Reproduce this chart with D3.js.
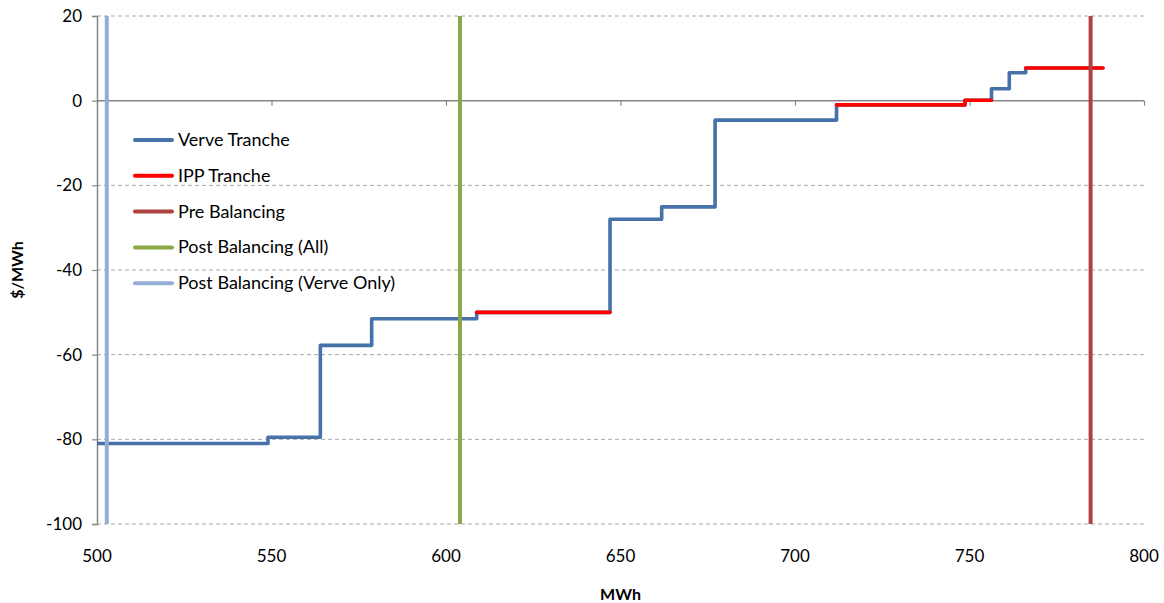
<!DOCTYPE html>
<html>
<head>
<meta charset="utf-8">
<script src="https://cdn.jsdelivr.net/npm/d3@7"></script>
<style>
  html, body { margin: 0; padding: 0; background: #fff; }
  svg { display: block; font-family: Lato, "Open Sans", sans-serif; }
</style>
</head>
<body>
<div id="chart"></div>
<script>
// Supply stack: each tranche runs from start MWh to end MWh at a price.
const trancheStart = [500, 549, 564, 578.7, 608.8, 647, 661.8, 677.1, 711.9, 748.7, 756.3, 761.4, 766.1];
const trancheEnd   = [549, 564, 578.7, 608.8, 647, 661.8, 677.1, 711.9, 748.7, 756.3, 761.4, 766.1, 788.3];
const tranchePrice = [-81, -79.5, -57.8, -51.5, -50.0, -28.0, -25.1, -4.6, -1.0, 0.1, 2.8, 6.6, 7.7];
const trancheOwner = ["Verve", "Verve", "Verve", "Verve", "IPP", "Verve", "Verve", "Verve", "IPP", "IPP", "Verve", "Verve", "IPP"];

// Balancing positions (MWh)
const balancingNames = ["Pre Balancing", "Post Balancing (All)", "Post Balancing (Verve Only)"];
const balancingMWh   = [784.7, 604, 502.8];

const xTicks = [500, 550, 600, 650, 700, 750, 800];
const yTicks = [20, 0, -20, -40, -60, -80, -100];

const legendNames  = ["Verve Tranche", "IPP Tranche", "Pre Balancing", "Post Balancing (All)", "Post Balancing (Verve Only)"];
const legendColors = ["#4671A9", "#FF0000", "#AD4341", "#8BA747", "#93ADD5"];

const W = 1164, H = 603;
const plot = { left: 97, right: 1144, top: 16, bottom: 524 };

const svg = d3.select("#chart").append("svg").attr("width", W).attr("height", H);

const x = d3.scaleLinear().domain([500, 800]).range([plot.left, plot.right]);
const y = d3.scaleLinear().domain([-100, 20]).range([plot.bottom, plot.top]);

// dashed horizontal gridlines
svg.append("g").selectAll("line")
  .data(yTicks.filter(d => d !== 0))
  .join("line")
  .attr("x1", plot.left).attr("x2", plot.right)
  .attr("y1", d => y(d)).attr("y2", d => y(d))
  .attr("stroke", "#a6a6a6").attr("stroke-width", 1)
  .attr("stroke-dasharray", "4,3");

// y axis (plain hyphen for negatives)
const yAxis = d3.axisLeft(y).tickValues(yTicks).tickSize(5).tickPadding(10).tickFormat(d => String(d));
const gy = svg.append("g").attr("transform", `translate(${plot.left},0)`).call(yAxis);
gy.select(".domain").attr("stroke", "#868686").attr("stroke-width", 1.5);
gy.selectAll(".tick line").attr("stroke", "#868686").attr("stroke-width", 1.2);
gy.selectAll(".tick text").attr("font-size", 17).attr("fill", "#000").attr("font-family", "Lato, sans-serif");

// x axis line drawn through zero, labels along the bottom
const xAxis = d3.axisBottom(x).tickValues(xTicks).tickSize(5).tickFormat(() => "");
const gx = svg.append("g").attr("transform", `translate(0,${y(0)})`).call(xAxis);
gx.select(".domain").attr("stroke", "#868686").attr("stroke-width", 1.5).attr("d", `M${plot.left},0H${plot.right}`);
gx.selectAll(".tick line").attr("stroke", "#868686").attr("stroke-width", 1.2);

svg.append("g").selectAll("text")
  .data(xTicks)
  .join("text")
  .attr("x", d => x(d)).attr("y", 562)
  .attr("text-anchor", "middle")
  .attr("font-size", 17)
  .text(d => d);

// axis titles
svg.append("text")
  .attr("transform", `translate(23,${(plot.top + plot.bottom) / 2}) rotate(-90)`)
  .attr("text-anchor", "middle").attr("font-weight", "bold").attr("font-size", 16)
  .text("$/MWh");
svg.append("text")
  .attr("x", (plot.left + plot.right) / 2).attr("y", 600)
  .attr("text-anchor", "middle").attr("font-weight", "bold").attr("font-size", 16)
  .text("MWh");

// step curve of the whole stack
const stepPts = trancheStart.map((s, i) => [s, tranchePrice[i]]);
stepPts.push([trancheEnd[trancheEnd.length - 1], tranchePrice[tranchePrice.length - 1]]);
const stepLine = d3.line().x(d => x(d[0])).y(d => y(d[1])).curve(d3.curveStepAfter);

svg.append("path")
  .attr("d", stepLine(stepPts))
  .attr("fill", "none").attr("stroke", legendColors[0]).attr("stroke-width", 3.6)
  .attr("stroke-linejoin", "round").attr("stroke-linecap", "butt");

// IPP tranches over the top, grouping consecutive runs
const runs = [];
trancheOwner.forEach((o, i) => {
  if (o !== "IPP") return;
  const last = runs[runs.length - 1];
  if (last && last.endIdx === i - 1) { last.endIdx = i; last.pts.push([trancheStart[i], tranchePrice[i]]); }
  else runs.push({ endIdx: i, pts: [[trancheStart[i], tranchePrice[i]]] });
});
runs.forEach(r => r.pts.push([trancheEnd[r.endIdx], tranchePrice[r.endIdx]]));

svg.append("g").selectAll("path")
  .data(runs)
  .join("path")
  .attr("d", r => stepLine(r.pts))
  .attr("fill", "none").attr("stroke", legendColors[1]).attr("stroke-width", 3.6)
  .attr("stroke-linejoin", "round").attr("stroke-linecap", "round");

// balancing verticals
const balColor = { "Pre Balancing": legendColors[2], "Post Balancing (All)": legendColors[3], "Post Balancing (Verve Only)": legendColors[4] };
svg.append("g").selectAll("line")
  .data(balancingNames.map((n, i) => ({ n, v: balancingMWh[i] })))
  .join("line")
  .attr("x1", d => x(d.v)).attr("x2", d => x(d.v))
  .attr("y1", y(20)).attr("y2", y(-100))
  .attr("stroke", d => balColor[d.n]).attr("stroke-width", 4);

// legend
const lg = svg.append("g").selectAll("g")
  .data(legendNames)
  .join("g")
  .attr("transform", (d, i) => `translate(0,${140 + i * 35.8})`);
lg.append("line")
  .attr("x1", 135).attr("x2", 172).attr("y1", 0).attr("y2", 0)
  .attr("stroke", (d, i) => legendColors[i]).attr("stroke-width", 4).attr("stroke-linecap", "round");
lg.append("text")
  .attr("x", 178).attr("y", 6)
  .attr("font-size", 18)
  .text(d => d);
</script>
</body>
</html>
